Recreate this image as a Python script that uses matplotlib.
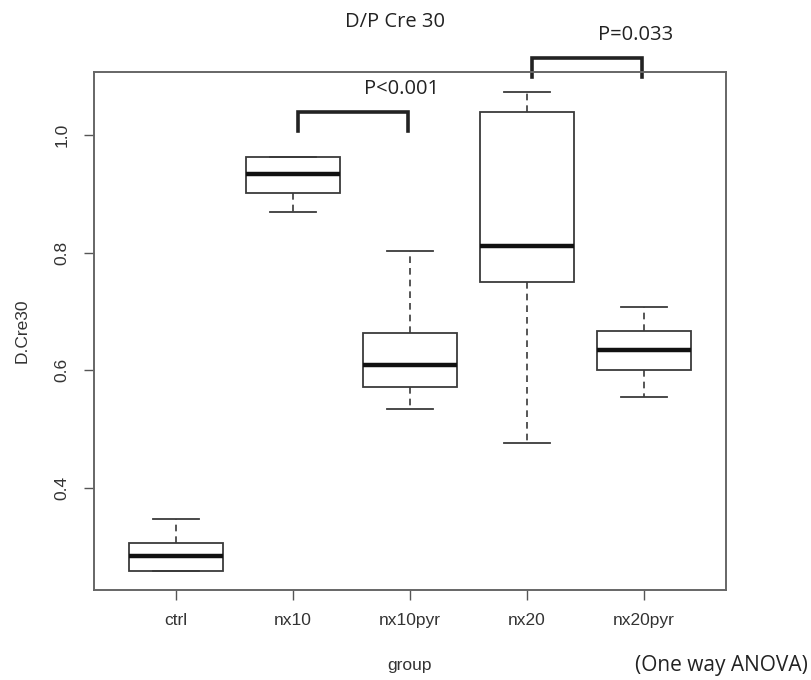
import matplotlib
matplotlib.use("Agg")
import matplotlib.pyplot as plt

# --- data (R-style boxplot) ---
groups = ["ctrl", "nx10", "nx10pyr", "nx20", "nx20pyr"]
whisker_lo = [0.259, 0.869, 0.534, 0.476, 0.554]
q1 = [0.259, 0.902, 0.571, 0.750, 0.600]
medians = [0.284, 0.934, 0.609, 0.811, 0.634]
q3 = [0.306, 0.962, 0.664, 1.039, 0.667]
whisker_hi = [0.347, 0.962, 0.802, 1.074, 0.707]

# significance brackets: (left group, right group, label)
brackets = [(2, 3, "P<0.001"), (4, 5, "P=0.033")]
bracket_tops = [1.039, 1.131]

sans = "Liberation Sans"
label_font = "Open Sans"

fig = plt.figure(figsize=(8.11, 6.80), dpi=100)
W, H = 811, 680
ax = fig.add_axes([94 / W, 1 - 590 / H, (726 - 94) / W, (590 - 72.3) / H])

stats = []
for i, g in enumerate(groups):
    stats.append(dict(label=g, whislo=whisker_lo[i], q1=q1[i], med=medians[i],
                      q3=q3[i], whishi=whisker_hi[i], fliers=[]))

pos = list(range(1, len(groups) + 1))
edge = "#3a3a3a"
ax.bxp(stats, positions=pos, widths=0.8, capwidths=0.4, showfliers=False,
       patch_artist=True,
       boxprops=dict(facecolor="white", edgecolor=edge, linewidth=1.3),
       medianprops=dict(color="#111111", linewidth=3.2),
       whiskerprops=dict(color=edge, linewidth=1.2, linestyle=(0, (4, 3))),
       capprops=dict(color=edge, linewidth=1.3))

ax.set_xlim(0.3, 5.7)
ax.set_ylim(0.2259, 1.1067)
ax.set_yticks([0.4, 0.6, 0.8, 1.0])
ax.set_yticklabels(["0.4", "0.6", "0.8", "1.0"], rotation=90, va="center",
                   family=sans, fontsize=12.5, color="#333333")
ax.set_xticks(pos)
ax.set_xticklabels(groups, family=sans, fontsize=12.5, color="#333333")
ax.tick_params(axis="x", length=7.5, width=1.0, pad=9, color="#555555")
ax.tick_params(axis="y", length=7.5, width=1.0, pad=10, color="#555555")
for s in ax.spines.values():
    s.set_color("#666666")
    s.set_linewidth(1.4)

ax.set_xlabel("group", family=sans, fontsize=12.5, color="#333333", labelpad=22)
ax.set_ylabel("D.Cre30", family=sans, fontsize=12.5, color="#333333", labelpad=18)

# significance brackets
for (a, b, lab), top in zip(brackets, bracket_tops):
    x0, x1 = a + 0.04, b - 0.02
    ax.plot([x0, x0, x1, x1], [top - 0.033, top, top, top - 0.033],
            color="#222222", lw=2.6, clip_on=False, solid_joinstyle="miter")
    ax.text((x0 + x1) / 2 + 0.42, top + 0.039, lab, ha="center", va="center",
            family=label_font, fontsize=14.5, color="#222222", clip_on=False)

fig.text(394.7 / W, 1 - 21.7 / H, "D/P Cre 30", ha="center", va="center",
         family=label_font, fontsize=14.5, color="#222222")
fig.text(721 / W, 1 - 665 / H, "(One way ANOVA)", ha="center", va="center",
         family=label_font, fontsize=15, color="#222222")

fig.savefig("out.png", dpi=100)
